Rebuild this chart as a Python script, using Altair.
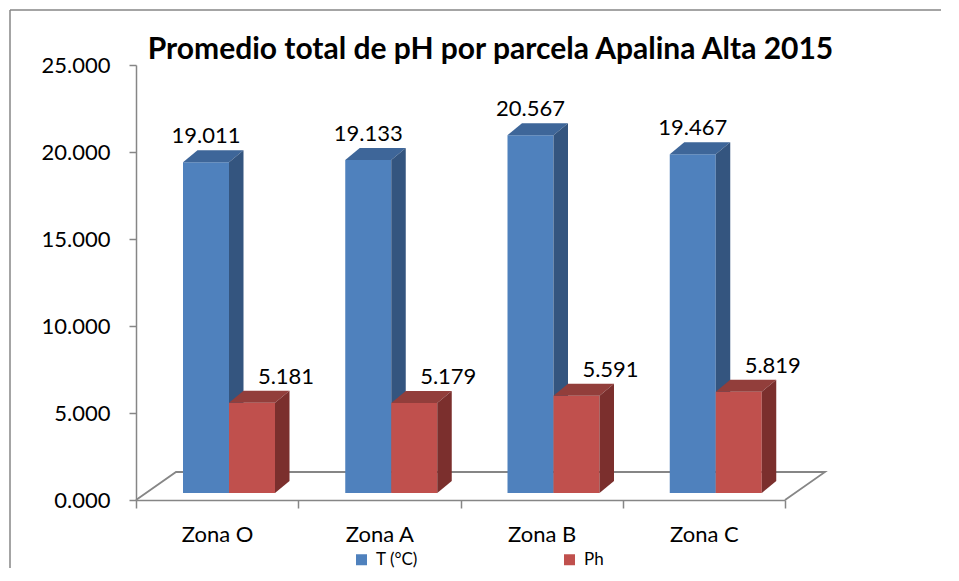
import json
import altair as alt
import pandas as pd

# ---- data ----
zones = ["Zona O", "Zona A", "Zona B", "Zona C"]
series = ["T (°C)", "Ph"]
temp = [19.011, 19.133, 20.567, 19.467]
ph = [5.181, 5.179, 5.591, 5.819]
y_ticks = [0, 5, 10, 15, 20, 25]

# ---- styling / geometry constants (in scale units) ----
W, H = 649, 435
PX_X = W / len(zones)          # px per x unit
PX_Y = H / 25.0                # px per y unit
bar_w = 46 / PX_X
bar_start = 47 / PX_X          # blue bar left edge within a category
base = 7 / PX_Y                # bars stand a little back on the floor
dep_x, dep_y = 14.5 / PX_X, 12 / PX_Y      # bar depth
floor_x, floor_y = 40 / PX_X, 28 / PX_Y    # floor depth
red_label_shift = 34 / PX_X

front_col = {"T (°C)": "#4F81BD", "Ph": "#C0504D"}
side_col = {"T (°C)": "#34557F", "Ph": "#7B2F2D"}
top_col = {"T (°C)": "#3E6699", "Ph": "#923E3B"}
GRAY = "#868686"
FONT = "Lato"

rows, sides, tops = [], [], []
for i, z in enumerate(zones):
    for k, (s, vals) in enumerate(zip(series, [temp, ph])):
        v = vals[i]
        left = i + bar_start + k * bar_w
        right = left + bar_w
        top = base + v
        bid = f"{z}-{s}"
        lab_x = (left + right) / 2 + (red_label_shift if k == 1 else 0)
        rows.append(dict(zone=z, series=s, left=left, right=right, base=base,
                         top=top, value=v, lab_x=lab_x, id=bid))
        sides.append(dict(series=s, id=bid, x=right, y=base, y2=top, c=side_col[s]))
        sides.append(dict(series=s, id=bid, x=right + dep_x, y=base + dep_y,
                          y2=top + dep_y, c=side_col[s]))
        tops.append(dict(series=s, id=bid, y=top, x=left, x2=right, c=top_col[s]))
        tops.append(dict(series=s, id=bid, y=top + dep_y, x=left + dep_x,
                         x2=right + dep_x, c=top_col[s]))

bars = pd.DataFrame(rows)
side_df = pd.DataFrame(sides)
top_df = pd.DataFrame(tops)

n = len(zones)
floor_df = pd.DataFrame({
    "x": [0, floor_x, n + floor_x, n],
    "y": [0, floor_y, floor_y, 0],
    "o": [0, 1, 2, 3],
})

xscale = alt.Scale(domain=[0, n], nice=False, zero=False)
yscale = alt.Scale(domain=[0, 25], nice=False)

label_expr = json.dumps(zones + [""]) + "[datum.value]"

x_axis = alt.Axis(values=list(range(n + 1)), labelExpr=label_expr, labelOffset=PX_X / 2,
                  labelFlush=False, labelOverlap=False, tickSize=8, tickWidth=1.5,
                  tickColor=GRAY, domainColor=GRAY, domainWidth=1.5, grid=False,
                  title=None, labelFont=FONT, labelFontSize=22, labelColor="black",
                  labelPadding=16)
y_axis = alt.Axis(values=y_ticks, format=".3f", tickSize=7, tickWidth=1.5,
                  tickColor=GRAY, domainColor=GRAY, domainWidth=1.5, grid=False,
                  title=None, labelFont=FONT, labelFontSize=22, labelColor="black",
                  labelPadding=19)

one = pd.DataFrame({"a": [0]})
frame_left = alt.Chart(one).mark_rule(color=GRAY, strokeWidth=1.5).encode(
    x=alt.value(-126), y=alt.value(-55), y2=alt.value(600))
frame_top = alt.Chart(one).mark_rule(color=GRAY, strokeWidth=1.5).encode(
    x=alt.value(-126), x2=alt.value(805), y=alt.value(-55))

floor = alt.Chart(floor_df).mark_line(color=GRAY, strokeWidth=1.8).encode(
    x=alt.X("x:Q", scale=xscale, axis=x_axis),
    y=alt.Y("y:Q", scale=yscale, axis=y_axis),
    order="o:O",
)

layers = [frame_left, frame_top, floor]
for s in series:
    fr = alt.Chart(bars[bars.series == s]).mark_rect().encode(
        x=alt.X("left:Q", scale=xscale),
        x2="right:Q",
        y=alt.Y("base:Q", scale=yscale),
        y2="top:Q",
        color=alt.Color("series:N", scale=alt.Scale(domain=series,
                        range=[front_col[t] for t in series]),
                        legend=alt.Legend(title=None, orient="none", direction="horizontal",
                                          legendX=217, legendY=486, symbolType="square",
                                          symbolSize=121, symbolStrokeWidth=0,
                                          labelFont=FONT, labelFontSize=17,
                                          labelColor="black", labelOffset=6,
                                          columnPadding=143)),
    )
    tp = alt.Chart(top_df[top_df.series == s]).mark_area(orient="horizontal").encode(
        y=alt.Y("y:Q", scale=yscale),
        x=alt.X("x:Q", scale=xscale),
        x2="x2:Q",
        detail="id:N",
        fill=alt.Fill("c:N", scale=None),
    )
    sd = alt.Chart(side_df[side_df.series == s]).mark_area(orient="vertical").encode(
        x=alt.X("x:Q", scale=xscale),
        y=alt.Y("y:Q", scale=yscale),
        y2="y2:Q",
        detail="id:N",
        fill=alt.Fill("c:N", scale=None),
    )
    layers += [fr, tp, sd]

labels = alt.Chart(bars).mark_text(
    font=FONT, fontSize=22, color="black", baseline="alphabetic", dy=-19
).encode(
    x=alt.X("lab_x:Q", scale=xscale),
    y=alt.Y("top:Q", scale=yscale),
    text=alt.Text("value:Q", format=".3f"),
)
layers.append(labels)

chart = alt.layer(*layers).properties(
    width=W, height=H,
    title=alt.TitleParams("Promedio total de pH por parcela Apalina Alta 2015",
                          font=FONT, fontSize=30, fontWeight="bold", color="black",
                          anchor="middle", frame="group", dx=30, baseline="alphabetic",
                          offset=3, dy=83),
    autosize=alt.AutoSizeParams(type="none"),
    padding={"left": 128, "top": 57, "right": 166, "bottom": 68},
).configure(background="white", view=alt.ViewConfig(stroke=None))

chart.save("out.html", embed_options={"renderer": "svg", "actions": False})
